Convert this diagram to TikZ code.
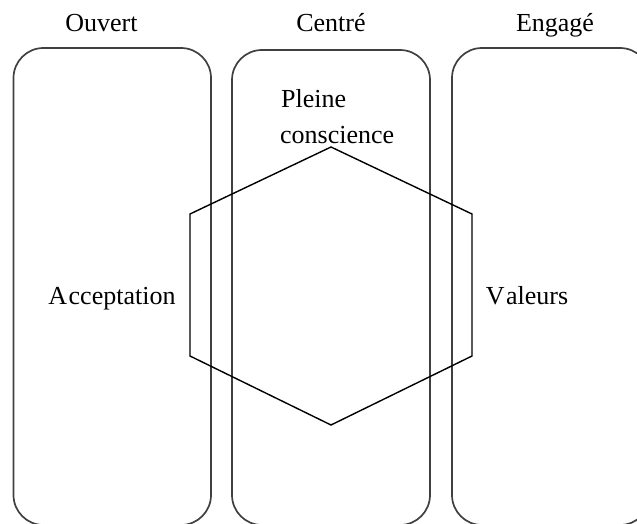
\documentclass[tikz,border=0pt]{standalone}
\usepackage{fontspec}
\setmainfont{Liberation Serif}
\begin{document}
\begin{tikzpicture}[x=1pt,y=-1pt,
  column/.style={draw=black!75,line width=1.7pt,rounded corners=30pt},
  hexline/.style={draw=black,line width=1.4pt,line join=miter},
  lbl/.style={font=\fontsize{26}{30}\selectfont,inner sep=0pt,anchor=base}]
  \useasboundingbox (0,0) rectangle (637,524);
  \clip (0,0) rectangle (637,524);
  % three columns
  \draw[column] (13.5,48) rectangle (211,525) coordinate (c1);
  \draw[column] (232,50) rectangle (430,525) coordinate (c2);
  \draw[column] (452,48) rectangle (650,525) coordinate (c3);
  % central hexagon
  \coordinate (h1) at (331,147);
  \coordinate (h2) at (472,214);
  \coordinate (h3) at (472,356);
  \coordinate (h4) at (331,425);
  \coordinate (h5) at (190,356);
  \coordinate (h6) at (190,214);
  \draw[hexline] (h1) -- (h2) -- (h3) -- (h4) -- (h5) -- (h6) -- cycle;
  % headings
  \node[lbl] (ouvert) at (101.5,32) {Ouvert};
  \node[lbl] (centre) at (331,32) {Centré};
  \node[lbl] (engage) at (555,32) {Engagé};
  % labels
  \node[lbl,anchor=base west] (pleine) at (281,108) {Pleine};
  \node[lbl,anchor=base west] (consc) at (280,143) {conscience};
  \node[lbl] (accept) at (112,304) {A\kern1.5pt cceptation};
  \node[lbl] (valeurs) at (527,304) {V\kern1.5pt aleurs};
\end{tikzpicture}
\end{document}
